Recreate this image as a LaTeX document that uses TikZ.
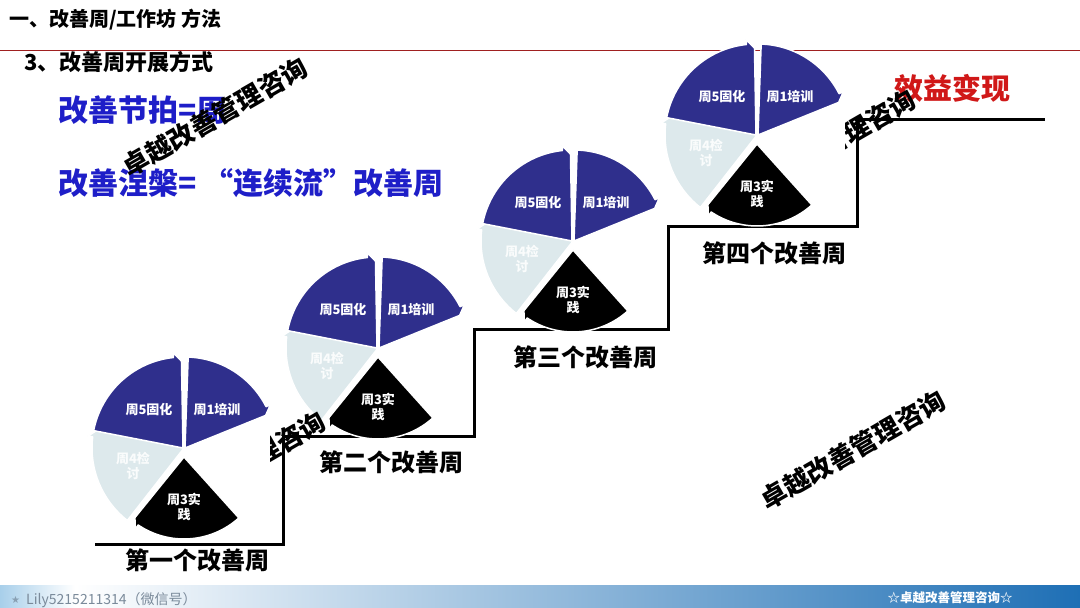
\documentclass[tikz,border=0pt]{standalone}
\usepackage{fontspec}
\setmainfont{Noto Sans CJK SC}
\newfontfamily\symfont{DejaVu Sans}
\definecolor{wblue}{HTML}{2F2F8C}
\definecolor{palecol}{HTML}{DDE9EC}
\definecolor{titleblue}{HTML}{1E1EC8}
\definecolor{effred}{HTML}{D01818}
\definecolor{headred}{HTML}{A02020}
\definecolor{barblue}{HTML}{1E6FB5}
\definecolor{barlight}{HTML}{A8CFEA}
\definecolor{footgray}{HTML}{7A8A9A}
\tikzset{
  sectorfill/.style={draw=white, line width=1.5pt, line join=round},
  wtext/.style={text=white, font=\bfseries\fontsize{13}{15}\selectfont, inner sep=0pt, align=center},
  stagelabel/.style={font=\bfseries\fontsize{24}{24}\selectfont, inner sep=0pt},
  bluetitle/.style={anchor=west, text=titleblue, font=\bfseries\fontsize{30}{30}\selectfont, inner sep=0pt},
  wmark/.style={font=\bfseries\fontsize{26}{26}\selectfont, inner sep=0pt, rotate=30},
  stair/.style={line width=3pt, line join=miter, line cap=butt}
}
% #1 colour, #2 start angle, #3 end angle (clockwise end), #4 radius, #5 shift
\newcommand{\cycsector}[5]{%
  \filldraw[sectorfill, fill=#1, shift={#5}] (0,0) -- (#2:#4)
    arc[start angle=#2, end angle={#3+4}, radius=#4]
    -- ({#3+4}:{#4+5}) -- ({#3-1}:{#4-4}) -- cycle;}
% #1 x, #2 y, #3 name prefix
\newcommand{\cyclewheel}[3]{%
  \begin{scope}[shift={(#1,#2)}]
    \cycsector{palecol}{232}{169}{92}{(0,0)}
    \cycsector{black}{-48}{-128}{82}{(0,-9)}
    \cycsector{wblue}{169}{92}{91}{(-1,0)}
    \cycsector{wblue}{88}{23}{91}{(1,0)}
    \node[wtext] (#3w5) at (-35,38) {周5固化};
    \node[wtext] (#3w1) at (33,38) {周1培训};
    \node[wtext] (#3w3) at (0,-59) {周3实\\践};
    \node[wtext, text=white!85!palecol] (#3w4) at (-51,-18) {周4检\\讨};
  \end{scope}}
\begin{document}
\begin{tikzpicture}[x=1pt,y=1pt]
\useasboundingbox (0,0) rectangle (1080,608);
\fill[white] (0,0) rectangle (1080,608);

% header
\node[anchor=west, inner sep=0pt, font=\bfseries\fontsize{20}{20}\selectfont] (title) at (9,588) {一、改善周/工作坊 方法};
\draw[headred, line width=1pt] (0,557) -- (1080,557);
\node[anchor=west, inner sep=0pt, font=\bfseries\fontsize{22}{22}\selectfont] (subtitle) at (24,546) {3、改善周开展方式};

% blue statements
\node[bluetitle] (rhythm) at (58,498) {改善节拍=周};
\node[bluetitle] (nirvana) at (58,425) {改善涅槃= “连续流”改善周};

% staircase
\coordinate (s0) at (95,63);
\coordinate (s1) at (283,63);
\coordinate (s2) at (283,171);
\coordinate (s3) at (474,171);
\coordinate (s4) at (474,278);
\coordinate (s5) at (668,278);
\coordinate (s6) at (668,381);
\coordinate (s7) at (857,381);
\coordinate (s8) at (857,488);
\coordinate (s9) at (1045,488);
\draw[stair] (s0) -- (s1) -- (s2) -- (s3) -- (s4) -- (s5) -- (s6) -- (s7) -- (s8) -- (s9);

% wheels
\cyclewheel{184}{160}{a}
\cyclewheel{378}{260}{b}
\cyclewheel{573}{367}{c}
\cyclewheel{757}{473}{d}

% stage labels
\node[stagelabel] (st1) at (197,48) {第一个改善周};
\node[stagelabel] (st2) at (391,146) {第二个改善周};
\node[stagelabel] (st3) at (585,251) {第三个改善周};
\node[stagelabel] (st4) at (774,355) {第四个改善周};

% result
\node[text=effred, inner sep=0pt, font=\bfseries\fontsize{29}{29}\selectfont] (benefit) at (952,520) {效益变现};

% watermarks
\node[wmark] (wm1) at (215,491) {卓越改善管理咨询};
\node[wmark] (wm4) at (853,158) {卓越改善管理咨询};
\begin{scope}
  \clip (270,120) rectangle (400,200);
  \node[wmark] (wm2) at (233,137) {卓越改善管理咨询};
\end{scope}
\begin{scope}
  \clip (845,440) rectangle (1000,560);
  \node[wmark] (wm3) at (823,459) {卓越改善管理咨询};
\end{scope}

% footer bar
\shade[left color=barlight, right color=white] (0,0) rectangle (75,22);
\shade[left color=white, right color=barblue] (75,0) rectangle (1080,22);
\node[anchor=west, inner sep=0pt, text=footgray!70!barlight, font=\symfont\fontsize{10}{10}\selectfont] (footstar) at (11,8) {★};
\node[anchor=west, inner sep=0pt, text=footgray, font=\fontsize{14}{14}\selectfont] (footleft) at (26,8) {Lily5215211314（微信号）};
\node[inner sep=0pt, text=white, font=\bfseries\fontsize{12.5}{13}\selectfont] (footright) at (950,10) {☆卓越改善管理咨询☆};
\end{tikzpicture}
\end{document}
